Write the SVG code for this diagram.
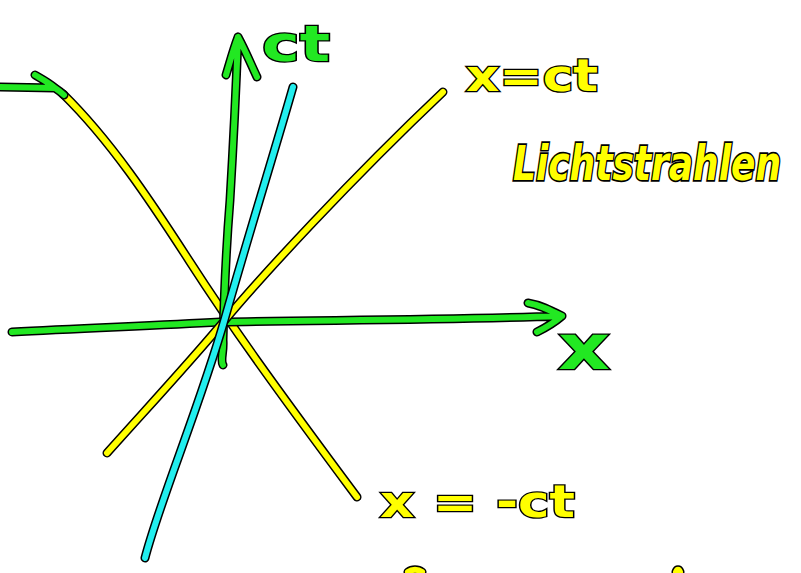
<svg xmlns="http://www.w3.org/2000/svg" width="801" height="573" viewBox="0 0 801 573">
<style>
.o{fill:none;stroke:#000;stroke-width:9;stroke-linecap:round;stroke-linejoin:round}
.g{fill:none;stroke:#22e822;stroke-width:6;stroke-linecap:round;stroke-linejoin:round}
.y{fill:none;stroke:#ffff00;stroke-width:6;stroke-linecap:round;stroke-linejoin:round}
.c{fill:none;stroke:#22eeee;stroke-width:6;stroke-linecap:round;stroke-linejoin:round}
.tg{fill:#22e822;stroke:#000;stroke-width:2.5;paint-order:stroke;font-family:"DejaVu Sans","Liberation Sans",sans-serif;font-weight:bold}
.ty{fill:#ffff00;stroke:#000;stroke-width:2.5;paint-order:stroke;font-family:"DejaVu Sans","Liberation Sans",sans-serif;font-weight:bold}
</style>
<rect width="801" height="573" fill="#fff"/>
<defs>
<path id="ylight1" d="M107,453 C150,405 190,362 225,320 S350,180 443,92"/>
<path id="ylight2" d="M63,94 C110,140 150,200 190,262 S270,380 357,497"/>
<path id="cyan" d="M293,87 C275,150 250,230 225,318 S160,500 145,558"/>
<path id="ctaxis" d="M223,365 C220,360 224,352 223,340 C224,300 226,250 230,200 C233,150 236,90 238,37 M238,37 C233,50 230,62 226,75 M238,37 C245,50 250,62 257,77"/>
<path id="xaxis" d="M12,332 C80,328 150,326 220,322 C330,320 450,320 562,316 M562,316 C550,310 540,305 528,303 M562,316 C555,322 545,328 537,332"/>
<path id="topleft" d="M0,87 L55,88 C48,82 40,78 35,75 M55,88 C58,90 61,92 64,95"/>
<path id="b1" d="M408,572 C412,569 418,569 422,572"/>
<path id="b2" d="M676,572 C677,569 679,569 680,572"/>
</defs>
<g id="connectors">
<use href="#ylight2" class="o"/><use href="#ylight2" class="y"/>
<use href="#topleft" class="o"/><use href="#topleft" class="g"/>
<use href="#ctaxis" class="o"/><use href="#ctaxis" class="g"/>
<use href="#xaxis" class="o"/><use href="#xaxis" class="g"/>
<use href="#ylight1" class="o"/><use href="#ylight1" class="y"/>
<use href="#cyan" class="o"/><use href="#cyan" class="c"/>
<use href="#b1" class="o"/><use href="#b1" class="y"/>
<use href="#b2" class="o"/><use href="#b2" class="y"/>
</g>
<g id="label-ct"><text class="tg" x="262" y="61" font-size="50" textLength="68" lengthAdjust="spacingAndGlyphs">ct</text></g>
<g id="label-x"><text class="tg" x="558" y="369" font-size="62" textLength="52" lengthAdjust="spacingAndGlyphs">x</text></g>
<g id="label-xct"><text class="ty" x="466" y="91" font-size="44" textLength="132" lengthAdjust="spacingAndGlyphs">x=ct</text></g>
<g id="label-licht"><text class="ty" transform="translate(513,180) scale(1,1.35)" x="0" y="0" font-size="36" font-style="italic">Lichtstrahlen</text></g>
<g id="label-xmct"><text class="ty" x="380" y="517" font-size="44" textLength="195" lengthAdjust="spacingAndGlyphs">x = -ct</text></g>
</svg>
